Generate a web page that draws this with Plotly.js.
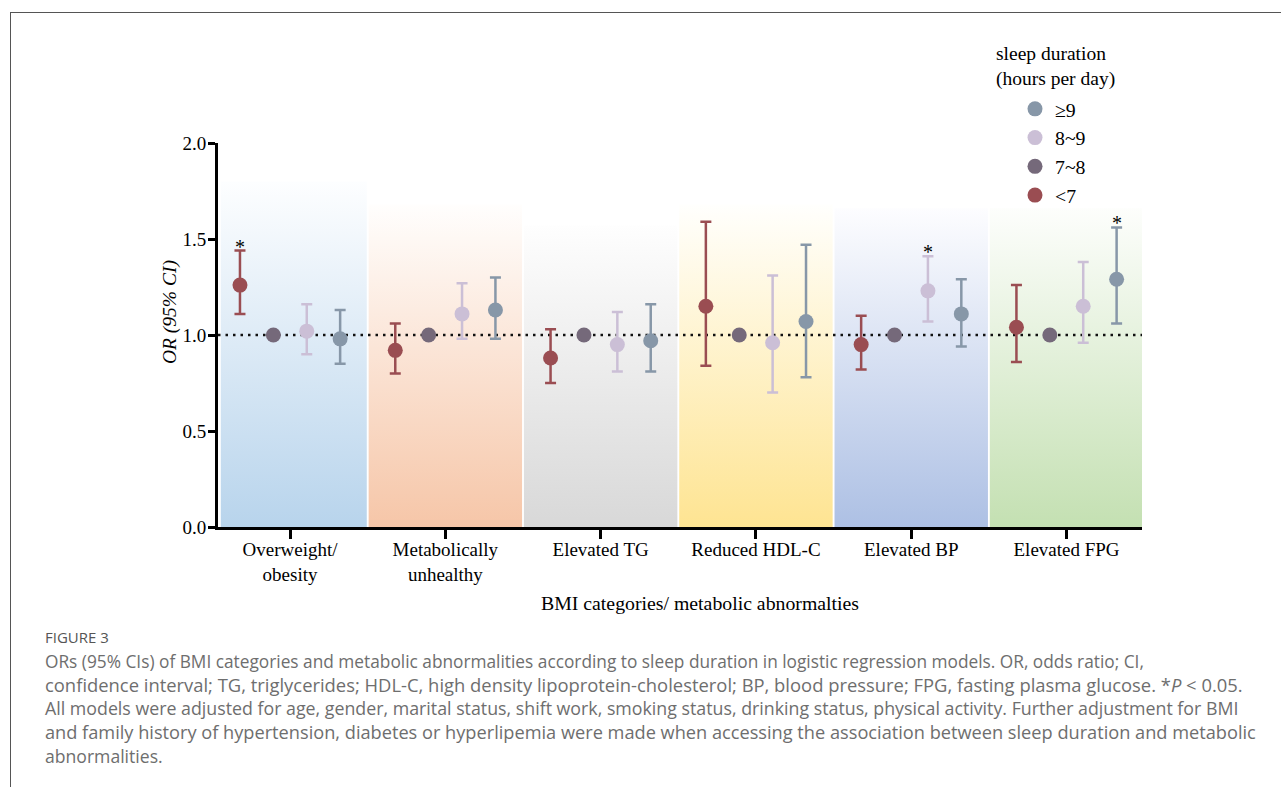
<!DOCTYPE html>
<html><head><meta charset="utf-8">
<script src="https://cdn.plot.ly/plotly-3.0.1.min.js"></script>
<style>body{margin:0;background:#fff}#chart{width:1281px;height:787px}</style>
</head><body><div id="chart"></div>
<script>
// ---- data ----
const categories = ["Overweight/<br>obesity", "Metabolically<br>unhealthy", "Elevated TG", "Reduced HDL-C", "Elevated BP", "Elevated FPG"];
const seriesNames = ["<7", "7~8", "8~9", "≥9"];
const orLt7  = [1.26, 0.92, 0.88, 1.15, 0.95, 1.04];
const lowLt7 = [1.11, 0.80, 0.75, 0.84, 0.82, 0.86];
const upLt7  = [1.44, 1.06, 1.03, 1.59, 1.10, 1.26];
const or7to8 = [1.00, 1.00, 1.00, 1.00, 1.00, 1.00];
const or8to9  = [1.02, 1.11, 0.95, 0.96, 1.23, 1.15];
const low8to9 = [0.90, 0.98, 0.81, 0.70, 1.07, 0.96];
const up8to9  = [1.16, 1.27, 1.12, 1.31, 1.41, 1.38];
const orGe9  = [0.98, 1.13, 0.97, 1.07, 1.11, 1.29];
const lowGe9 = [0.85, 0.98, 0.81, 0.78, 0.94, 1.06];
const upGe9  = [1.13, 1.30, 1.16, 1.47, 1.29, 1.56];
const sigLt7  = [true, false, false, false, false, false];
const sig8to9 = [false, false, false, false, true, false];
const sigGe9  = [false, false, false, false, false, true];
const yTickVals = [0, 0.5, 1.0, 1.5, 2.0];
const yTickText = ["0.0", "0.5", "1.0", "1.5", "2.0"];
const referenceOR = 1.0;

// ---- styles ----
const SERIF = "Liberation Serif, Times New Roman, serif";
const SANS = "Open Sans, Lato, sans-serif";
const seriesColors = ["#9a4d52", "#75697a", "#cbbfd6", "#8797a8"];
const groupOffsets = [-0.3225, -0.1075, 0.1075, 0.3225];
const panelBottomColors = ["#b8d4ec", "#f6c6a8", "#d8d8d8", "#fee492", "#adc0e4", "#c4e0b2"];
const panelTopColors = ["#fdfeff", "#fffefd", "#fefefe", "#fffffd", "#fdfdff", "#fdfefc"];
const panelTops = [1.80, 1.68, 1.57, 1.68, 1.66, 1.66];
const xRange = [-0.464, 5.486];

const traces = [];
// background panels with vertical gradient
categories.forEach((c, i) => {
  const x0 = Math.max(i - 0.5, xRange[0]) + (i === 0 ? 0.018 : 0.006);
  const x1 = Math.min(i + 0.5, xRange[1]) - (i === categories.length - 1 ? 0 : 0.006);
  traces.push({
    type: "scatter", mode: "lines",
    x: [x0, x1, x1, x0, x0], y: [0, 0, panelTops[i], panelTops[i], 0],
    fill: "toself", line: {width: 0, color: "rgba(0,0,0,0)"},
    fillgradient: {type: "vertical", colorscale: [[0, panelBottomColors[i]], [1, panelTopColors[i]]]},
    hoverinfo: "skip", showlegend: false
  });
});
// reference line
traces.push({
  type: "scatter", mode: "lines", x: xRange, y: [referenceOR, referenceOR],
  line: {color: "#111", width: 2.5, dash: "2.5px,5px"}, hoverinfo: "skip", showlegend: false
});

const ors = [orLt7, or7to8, or8to9, orGe9];
const lows = [lowLt7, null, low8to9, lowGe9];
const ups = [upLt7, null, up8to9, upGe9];
const sigs = [sigLt7, null, sig8to9, sigGe9];

ors.forEach((vals, s) => {
  const t = {
    type: "scatter", mode: "markers", name: seriesNames[s],
    x: vals.map((v, i) => i + groupOffsets[s]), y: vals,
    marker: {color: seriesColors[s], size: 15},
    cliponaxis: false
  };
  if (ups[s]) {
    t.error_y = {type: "data", symmetric: false,
      array: vals.map((v, i) => ups[s][i] - v),
      arrayminus: vals.map((v, i) => v - lows[s][i]),
      color: seriesColors[s], thickness: 2.5, width: 5.5};
  }
  traces.push(t);
});

const annotations = [];
sigs.forEach((sg, s) => {
  if (!sg) return;
  sg.forEach((flag, i) => {
    if (flag) annotations.push({
      xref: "x", yref: "y", x: i + groupOffsets[s], y: ups[s][i],
      text: "*", showarrow: false, yanchor: "bottom", yshift: -9,
      font: {family: SERIF, size: 20, color: "#000"}
    });
  });
});

const W = 924, H = 384, L = 218, B = 527;
const px = v => (v - L) / W;
const py = v => (B - v) / H;

annotations.push({xref: "paper", yref: "paper", x: px(994), y: py(66.5), xanchor: "left", yanchor: "middle",
  text: "sleep duration<br>(hours per day)", showarrow: false, align: "left",
  font: {family: SERIF, size: 19.5, color: "#000"}});
annotations.push({xref: "paper", yref: "paper", x: px(170), y: py(312), xanchor: "center", yanchor: "middle",
  text: "<i>OR (95% CI)</i>", textangle: -90, showarrow: false,
  font: {family: SERIF, size: 19.5, color: "#000"}});
annotations.push({xref: "paper", yref: "paper", x: px(700), y: py(603), xanchor: "center", yanchor: "middle",
  text: "BMI categories/ metabolic abnormalties", showarrow: false,
  font: {family: SERIF, size: 19.8, color: "#000"}});

const captionTitle = "FIGURE 3";
const captionLines = [
  "ORs (95% CIs) of BMI categories and metabolic abnormalities according to sleep duration in logistic regression models. OR, odds ratio; CI,",
  "confidence interval; TG, triglycerides; HDL-C, high density lipoprotein-cholesterol; BP, blood pressure; FPG, fasting plasma glucose. *<i>P</i> &lt; 0.05.",
  "All models were adjusted for age, gender, marital status, shift work, smoking status, drinking status, physical activity. Further adjustment for BMI",
  "and family history of hypertension, diabetes or hyperlipemia were made when accessing the association between sleep duration and metabolic",
  "abnormalities."
];
const captionY = [661, 684, 708, 732, 756];
const captionSizes = [17.3, 18.4, 17.8, 18.2, 17.6];
annotations.push({xref: "paper", yref: "paper", x: px(43), y: py(637), xanchor: "left", yanchor: "middle",
  text: captionTitle, showarrow: false, font: {family: SANS, size: 15, color: "#555"}});
captionLines.forEach((t, k) => annotations.push({xref: "paper", yref: "paper", x: px(43), y: py(captionY[k]),
  xanchor: "left", yanchor: "middle", text: t, showarrow: false,
  font: {family: SANS, size: captionSizes[k], color: "#6e6e6e"}}));

const shapes = [
  {type: "line", xref: "paper", yref: "paper", x0: px(10), x1: px(1281), y0: py(12.5), y1: py(12.5), line: {color: "#555", width: 1}},
  {type: "line", xref: "paper", yref: "paper", x0: px(10.5), x1: px(10.5), y0: py(12), y1: py(787), line: {color: "#555", width: 1}}
];

const layout = {
  width: 1281, height: 787,
  margin: {l: L, r: 1281 - L - W, t: B - H, b: 787 - B, pad: 0},
  paper_bgcolor: "#fff", plot_bgcolor: "rgba(0,0,0,0)",
  showlegend: true,
  legend: {x: px(1015), y: py(89.5), xanchor: "left", yanchor: "top", traceorder: "reversed",
    font: {family: SERIF, size: 19.8, color: "#000"}, bgcolor: "rgba(0,0,0,0)", tracegroupgap: 0},
  xaxis: {range: xRange, tickvals: categories.map((c, i) => i), ticktext: categories,
    ticks: "outside", ticklen: 9, tickwidth: 3, tickcolor: "#000", ticklabelstandoff: -6,
    showline: true, linewidth: 3, linecolor: "#000", showgrid: false, zeroline: false,
    tickfont: {family: SERIF, size: 19, color: "#000"}, fixedrange: true},
  yaxis: {range: [0, 2], tickvals: yTickVals, ticktext: yTickText,
    ticks: "outside", ticklen: 7, tickwidth: 3, tickcolor: "#000", ticklabelstandoff: -2,
    showline: true, linewidth: 3, linecolor: "#000", showgrid: false, zeroline: false,
    tickfont: {family: SERIF, size: 19, color: "#000"}, fixedrange: true},
  annotations: annotations, shapes: shapes
};

Plotly.newPlot("chart", traces, layout, {displayModeBar: false, staticPlot: true});
</script>
</body></html>
